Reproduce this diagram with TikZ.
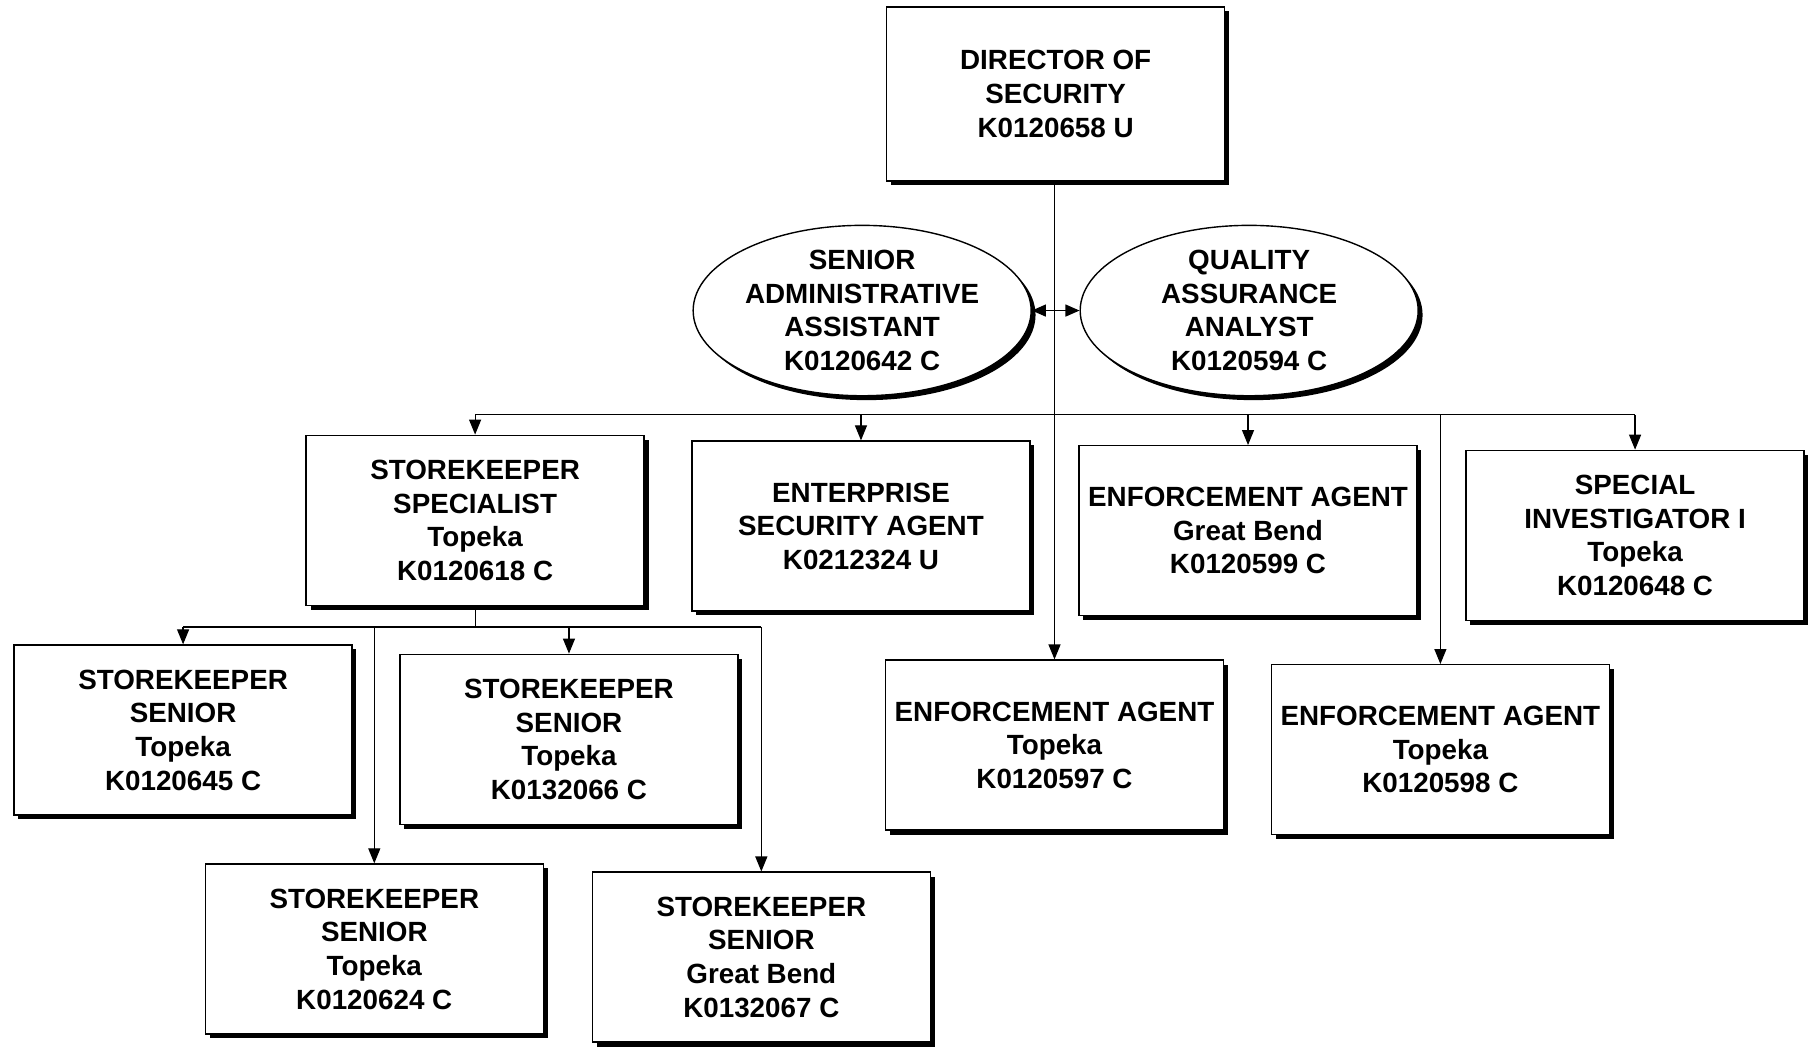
\documentclass[tikz,border=0pt]{standalone}
\usepackage{fontspec}
\setmainfont{Liberation Sans}
\usetikzlibrary{shapes.geometric,shadows,arrows.meta}
\begin{document}
\begin{tikzpicture}[x=0.5794pt,y=-0.5794pt,
  font=\fontsize{13.9}{16.8}\selectfont\bfseries,
  shade/.style={general shadow={fill=black, shadow xshift=2.2pt, shadow yshift=-2.2pt}},
  posbox/.style={draw=black, line width=0.7pt, fill=white, shade, align=center,
    minimum width=169pt, minimum height=85pt, inner sep=2pt},
  posoval/.style={ellipse, draw=black, line width=0.7pt, fill=white, shade, align=center,
    minimum width=169pt, minimum height=84pt, inner sep=0pt},
  link/.style={draw=black, line width=0.6pt},
  arr/.style={link, -{Triangle[length=7.5pt,width=6pt]}},
  darr/.style={link, {Triangle[length=7pt,width=6pt]}-{Triangle[length=7pt,width=6pt]}}]
\useasboundingbox (0,0) rectangle (1568,909);
\fill[white] (0,0) rectangle (1568,909);

\node[posbox, minimum height=87pt] (dir) at (911,81) {DIRECTOR OF\\SECURITY\\K0120658 U};
\node[posoval] (saa) at (744,268) {SENIOR\\ADMINISTRATIVE\\ASSISTANT\\K0120642 C};
\node[posoval] (qaa) at (1078,268) {QUALITY\\ASSURANCE\\ANALYST\\K0120594 C};

\node[posbox] (ss) at (410,449) {STOREKEEPER\\SPECIALIST\\Topeka\\K0120618 C};
\node[posbox] (esa) at (743,454) {ENTERPRISE\\SECURITY AGENT\\K0212324 U};
\node[posbox] (eagb) at (1077,458) {ENFORCEMENT AGENT\\Great Bend\\K0120599 C};
\node[posbox] (si) at (1411,462) {SPECIAL\\INVESTIGATOR I\\Topeka\\K0120648 C};

\node[posbox] (sk1) at (158,630) {STOREKEEPER\\SENIOR\\Topeka\\K0120645 C};
\node[posbox] (sk2) at (491,638) {STOREKEEPER\\SENIOR\\Topeka\\K0132066 C};
\node[posbox] (eat1) at (910,643) {ENFORCEMENT AGENT\\Topeka\\K0120597 C};
\node[posbox] (eat2) at (1243,647) {ENFORCEMENT AGENT\\Topeka\\K0120598 C};

\node[posbox] (sk3) at (323,819) {STOREKEEPER\\SENIOR\\Topeka\\K0120624 C};
\node[posbox] (sk4) at (657,826) {STOREKEEPER\\SENIOR\\Great Bend\\K0132067 C};

% director trunk
\coordinate (bus) at (910,358);
\draw[arr] (dir.south -| eat1.north) -- (eat1.north);
\draw[darr] (saa.east) -- (qaa.west);
% bus to first row
\draw[link] (ss.north |- bus) -- (si.north |- bus);
\draw[arr] (ss.north |- bus) -- (ss.north);
\draw[arr] (esa.north |- bus) -- (esa.north);
\draw[arr] (eagb.north |- bus) -- (eagb.north);
\draw[arr] (si.north |- bus) -- (si.north);
\draw[arr] (eat2.north |- bus) -- (eat2.north);

% storekeeper subtree
\coordinate (skbus) at (410,541);
\draw[link] (ss.south) -- (skbus);
\draw[link] (sk1.north |- skbus) -- (sk4.north |- skbus);
\draw[arr] (sk1.north |- skbus) -- (sk1.north);
\draw[arr] (sk2.north |- skbus) -- (sk2.north);
\draw[arr] (sk3.north |- skbus) -- (sk3.north);
\draw[arr] (sk4.north |- skbus) -- (sk4.north);
\end{tikzpicture}
\end{document}
